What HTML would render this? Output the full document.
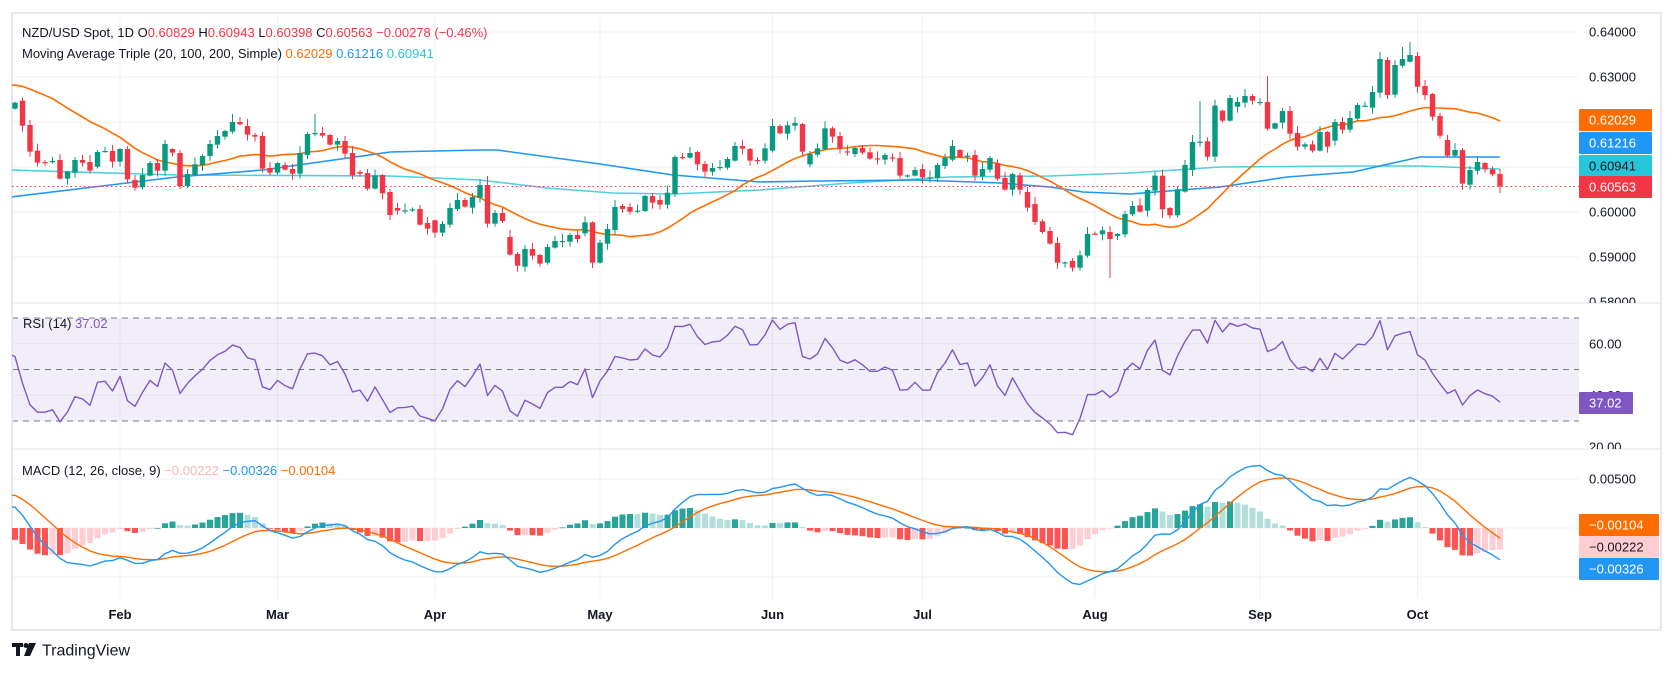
<!DOCTYPE html>
<html><head><meta charset="utf-8">
<style>
html,body{margin:0;padding:0;background:#fff;}
svg{display:block;font-family:"Liberation Sans",Arial,sans-serif;}
</style></head>
<body>
<svg id="c" width="1674" height="674" viewBox="0 0 1674 674" xmlns="http://www.w3.org/2000/svg">
<defs>
<clipPath id="cp"><rect x="12" y="13" width="1567" height="290"/></clipPath>
<clipPath id="cr"><rect x="12" y="303" width="1567" height="146"/></clipPath>
<clipPath id="cm"><rect x="12" y="449" width="1567" height="149"/></clipPath>
<clipPath id="ap"><rect x="1579" y="13" width="82" height="290"/></clipPath>
<clipPath id="ar"><rect x="1579" y="303" width="82" height="146"/></clipPath>
</defs>
<g id="g"></g>
<text x="22" y="37" font-size="13" fill="#131722">NZD/USD Spot, 1D  O<tspan fill="#f23645">0.60829</tspan>  H<tspan fill="#f23645">0.60943</tspan>  L<tspan fill="#f23645">0.60398</tspan>  C<tspan fill="#f23645">0.60563</tspan>  <tspan fill="#f23645">−0.00278 (−0.46%)</tspan></text>
<text x="22" y="58" font-size="13" fill="#131722">Moving Average Triple (20, 100, 200, Simple)  <tspan fill="#ff6d00">0.62029</tspan>  <tspan fill="#2196f3">0.61216</tspan>  <tspan fill="#26c6da">0.60941</tspan></text>
<text x="23" y="328" font-size="13" fill="#131722">RSI (14)  <tspan fill="#7e57c2">37.02</tspan></text>
<text x="22" y="475" font-size="13" fill="#131722">MACD (12, 26, close, 9)  <tspan fill="#f7b6bb">−0.00222</tspan>  <tspan fill="#2196f3">−0.00326</tspan>  <tspan fill="#ff6d00">−0.00104</tspan></text>
<g transform="translate(12,643)">
<rect x="0" y="0" width="11" height="4" fill="#131722"/>
<rect x="4" y="0" width="4" height="13" fill="#131722"/>
<circle cx="14" cy="2.5" r="2.5" fill="#131722"/>
<polygon points="17,0 24,0 18,13 12,13" fill="#131722"/>
<text x="30" y="12.5" font-size="16" fill="#131722">TradingView</text>
</g>
</svg>
<script>
(function(){
var D=[[146,128],[122,197],[195,275],[272,308],[306,308],[305,303],[300,356],[356,335],[338,300],[300,308],[306,332],[320,276],[274,273],[273,305],[305,267],[267,358],[360,383],[382,345],[347,309],[309,332],[332,252],[267,278],[279,378],[378,342],[345,313],[315,288],[288,252],[254,228],[230,213],[215,186],[186,193],[198,224],[225,230],[228,326],[324,338],[338,309],[315,329],[327,341],[341,279],[285,222],[220,219],[219,227],[225,254],[254,243],[243,281],[279,346],[336,341],[339,386],[386,346],
[345,400],[396,465],[444,452],[452,451],[449,448],[447,494],[489,506],[481,518],[518,492],[494,444],[447,420],[420,440],[443,411],[413,375],[375,491],[491,459],[459,483],[531,584],[582,617],[620,567],[567,587],[585,611],[608,561],[563,543],[544,543],[545,525],[525,537],[520,487],[487,608],[608,548],[551,507],[510,441],[438,447],[441,455],[453,452],[453,408],[408,428],[420,434],[434,398],[402,291],[291,292],[293,279],[276,313],[312,335],[335,324],[322,321],[323,297],[302,258],[258,266],[267,302],
[300,301],[302,265],[272,198],[198,220],[221,196],[197,189],[192,275],[313,282],[284,265],[267,205],[205,230],[228,266],[274,275],[282,264],[264,278],[277,296],[295,296],[299,285],[292,293],[294,347],[347,346],[347,330],[327,352],[353,352],[354,315],[318,293],[299,258],[270,291],[288,287],[285,347],[349,327],[329,294],[310,356],[354,389],[389,342],[346,389],[396,443],[432,486],[484,516],[513,551],[549,608],[608,607],[603,623],[623,586],[587,522],[521,522],[523,511],[516,537],[528,522],
[643,582],[583,558],[556,575],[572,510],[512,467],[467,568],[564,586],[586,508],[515,435],[450,366],[366,365],[364,410],[410,257],[272,302],[302,234],[260,246],[248,228],[228,242],[247,246],[246,326],[326,310],[308,273],[273,341],[339,380],[380,373],[373,392],[392,336],[336,380],[362,306],[306,329],[329,294],[296,255],[258,257],[263,216],[218,117],[120,225],[224,135],[137,117],[125,105],[108,200],[198,225],[222,290],[288,347],[360,407],[407,390],[390,491],[494,450],[452,426],[429,448],[448,463],[462,499]];
var N=D.length;
function X(i){return 15+i*7.5;}
var O=[],C=[],H=[],L=[];
for(var i=0;i<N;i++){var off=i<148?60:20;var o=off+D[i][0]/3,c=off+D[i][1]/3;O.push(o);C.push(c);
H.push(Math.min(o,c)-(((i*37)%7)+1));L.push(Math.max(o,c)+(((i*53)%6)+1));}
var sp={158:[101,null],167:[76,null],146:[null,278],77:[null,268],63:[176,null],186:[42,null],185:[47,null],182:[52,null],198:[null,193],40:[114,null],29:[114,null],20:[140,null],153:[null,218],160:[null,162]};
for(var k in sp){if(sp[k][0]!==null)H[k]=sp[k][0];if(sp[k][1]!==null)L[k]=sp[k][1];}
function P(y){return 0.64-(y-32)/4500;}
function Y(p){return 32+(0.64-p)*4500;}
var knots=[[-170,0.590],[-60,0.600],[-40,0.612],[-25,0.618],[-12,0.630],[-6,0.631],[-1,0.627]];
var pre=[];
for(var j=-170;j<0;j++){var a,b;for(var q=0;q<knots.length-1;q++){if(j>=knots[q][0]&&j<=knots[q+1][0]){a=knots[q];b=knots[q+1];break;}}
var t=(j-a[0])/(b[0]-a[0]);pre.push(a[1]+(b[1]-a[1])*t+0.0015*Math.sin(j*0.9));}
var all=pre.concat(C.map(P));var M=pre.length;
var s='';
var months=[["Feb",14],["Mar",35],["Apr",56],["May",78],["Jun",101],["Jul",121],["Aug",144],["Sep",166],["Oct",187]];
var gc='#f0f1f4';
months.forEach(function(m){var x=X(m[1]);s+='<line x1="'+x+'" y1="13" x2="'+x+'" y2="598" stroke="'+gc+'" stroke-width="1"/>';
s+='<text x="'+x+'" y="619" font-size="13" font-weight="bold" fill="#131722" text-anchor="middle">'+m[0]+'</text>';});
[0.64,0.63,0.62,0.61,0.60,0.59].forEach(function(p){var y=Y(p);s+='<line x1="12" y1="'+y+'" x2="1579" y2="'+y+'" stroke="'+gc+'"/>';});
function RY(v){return 318+(70-v)*2.575;}
s+='<rect x="12" y="'+RY(70)+'" width="1567" height="'+(RY(30)-RY(70))+'" fill="#7e57c2" fill-opacity="0.1"/>';
[60,40].forEach(function(v){s+='<line x1="12" y1="'+RY(v)+'" x2="1579" y2="'+RY(v)+'" stroke="#e4e0ee"/>';});
[70,50,30].forEach(function(v){s+='<line x1="12" y1="'+RY(v)+'" x2="1579" y2="'+RY(v)+'" stroke="#787b86" stroke-dasharray="6 5"/>';});
function MY(v){return 528-v*9800;}
[0.005,0,-0.005].forEach(function(v){s+='<line x1="12" y1="'+MY(v)+'" x2="1579" y2="'+MY(v)+'" stroke="'+gc+'"/>';});
s+='<rect x="12" y="13" width="1649" height="617" fill="none" stroke="#e6e8ee" stroke-width="2"/>';
s+='<line x1="12" y1="303" x2="1661" y2="303" stroke="#e0e3eb"/><line x1="12" y1="449" x2="1661" y2="449" stroke="#e0e3eb"/>';
s+='<g clip-path="url(#cp)">';
function poly(pts,col,w){return '<polyline fill="none" stroke="'+col+'" stroke-width="'+w+'" stroke-linejoin="round" points="'+pts.map(function(p){return p[0].toFixed(1)+','+p[1].toFixed(1);}).join(' ')+'"/>';}
var ma200=[[10,170],[177,175],[390,176],[480,180],[547,188],[613,193],[673,194],[760,190],[850,183],[950,177],[1050,176],[1130,173],[1220,167],[1353,166],[1420,166],[1500,169]];
var ma100=[[10,197],[177,177],[263,170],[390,152],[480,150],[497,150],[600,164],[673,175],[760,182],[817,181],[917,180],[1000,183],[1050,187],[1083,192],[1130,194],[1220,187],[1287,177],[1353,172],[1420,157],[1500,157]];
s+=poly(ma200,'#4dd0e1',1.6);s+=poly(ma100,'#2196f3',1.6);
var m20=[];for(var i=0;i<N;i++){var sum=0;for(var q=0;q<20;q++)sum+=all[M+i-q];m20.push([X(i),Y(sum/20)]);}
m20.unshift([10,m20[0][1]]);
s+=poly(m20,'#ff6d00',1.6);
s+='<line x1="12" y1="186.5" x2="1579" y2="186.5" stroke="#f23645" stroke-dasharray="1.5 3"/>';
for(var i=0;i<N;i++){var x=X(i);var col=(D[i][1]<D[i][0])?'#089981':'#f23645';
if(D[i][1]==D[i][0])col='#089981';
var t=Math.min(O[i],C[i]),h=Math.max(Math.abs(O[i]-C[i]),1.2);
s+='<line x1="'+x+'" y1="'+H[i]+'" x2="'+x+'" y2="'+L[i]+'" stroke="'+col+'" stroke-width="1"/>';
s+='<rect x="'+(x-2.7)+'" y="'+t+'" width="5.4" height="'+h+'" fill="'+col+'"/>';}
s+='</g>';
var rsi=[];var ag=0.0010,al=0.0007;
var rv=[];
for(var q=M;q<all.length;q++){var d=all[q]-all[q-1];ag=(ag*13+(d>0?d:0))/14;al=(al*13+(d<0?-d:0))/14;rv.push(100-100/(1+ag/(al||1e-9)));}
for(var i=0;i<N;i++)rsi.push([X(i),RY(rv[i])]);
rsi.unshift([10,RY(56)]);
s+='<g clip-path="url(#cr)">'+poly(rsi,'#7e57c2',1.4)+'</g>';
function ema(arr,n){var a=2/(n+1),out=[],e=arr[0];for(var q=0;q<arr.length;q++){e=q==0?arr[0]:a*arr[q]+(1-a)*e;out.push(e);}return out;}
var e12=ema(all,12),e26=ema(all,26);var mac=all.map(function(v,q){return e12[q]-e26[q];});var sig=ema(mac,9);
var hist=mac.map(function(v,q){return v-sig[q];});
s+='<g clip-path="url(#cm)">';
for(var i=0;i<N;i++){var q=M+i,hv=hist[q],pv=hist[q-1];var col;
if(hv>=0)col=hv>=pv?'#26a69a':'#b2dfdb';else col=hv<pv?'#ff5252':'#ffcdd2';
var y0=MY(0),y1=MY(hv);s+='<rect x="'+(X(i)-3)+'" y="'+Math.min(y0,y1)+'" width="6" height="'+Math.max(Math.abs(y1-y0),0.8)+'" fill="'+col+'"/>';}
var mp=[],sgp=[];for(var i=0;i<N;i++){mp.push([X(i),MY(mac[M+i])]);sgp.push([X(i),MY(sig[M+i])]);}
mp.unshift([10,mp[0][1]]);sgp.unshift([10,sgp[0][1]]);
s+=poly(sgp,'#ff6d00',1.4)+poly(mp,'#2196f3',1.4)+'</g>';
function tx(x,y,t,c){return '<text x="'+x+'" y="'+(y+4.5)+'" font-size="13" fill="'+(c||'#131722')+'">'+t+'</text>';}
s+='<g clip-path="url(#ap)">';
[[0.64,'0.64000'],[0.63,'0.63000'],[0.60,'0.60000'],[0.59,'0.59000'],[0.58,'0.58000']].forEach(function(a){s+=tx(1589,Y(a[0]),a[1]);});
s+='</g><g clip-path="url(#ar)">'+tx(1589,RY(60),'60.00')+tx(1589,RY(40),'40.00')+tx(1589,RY(20),'20.00')+'</g>';
s+=tx(1589,MY(0.005),'0.00500');
function lab(y,t,bg,fg,w){return '<rect x="1579" y="'+(y-11)+'" width="'+w+'" height="22" fill="'+bg+'" rx="1"/>'+tx(1589,y,t,fg);}
s+=lab(120,'0.62029','#ff6d00','#fff',73)+lab(143,'0.61216','#2196f3','#fff',73)+lab(166,'0.60941','#26c6da','#131722',73)+lab(187,'0.60563','#f23645','#fff',73);
s+=lab(403,'37.02','#7e57c2','#fff',54);
s+=lab(525,'−0.00104','#ff6d00','#fff',80)+lab(547,'−0.00222','#ffcdd2','#131722',80)+lab(569,'−0.00326','#2196f3','#fff',80);
document.getElementById('g').innerHTML=s;
})();
</script>
</body></html>
